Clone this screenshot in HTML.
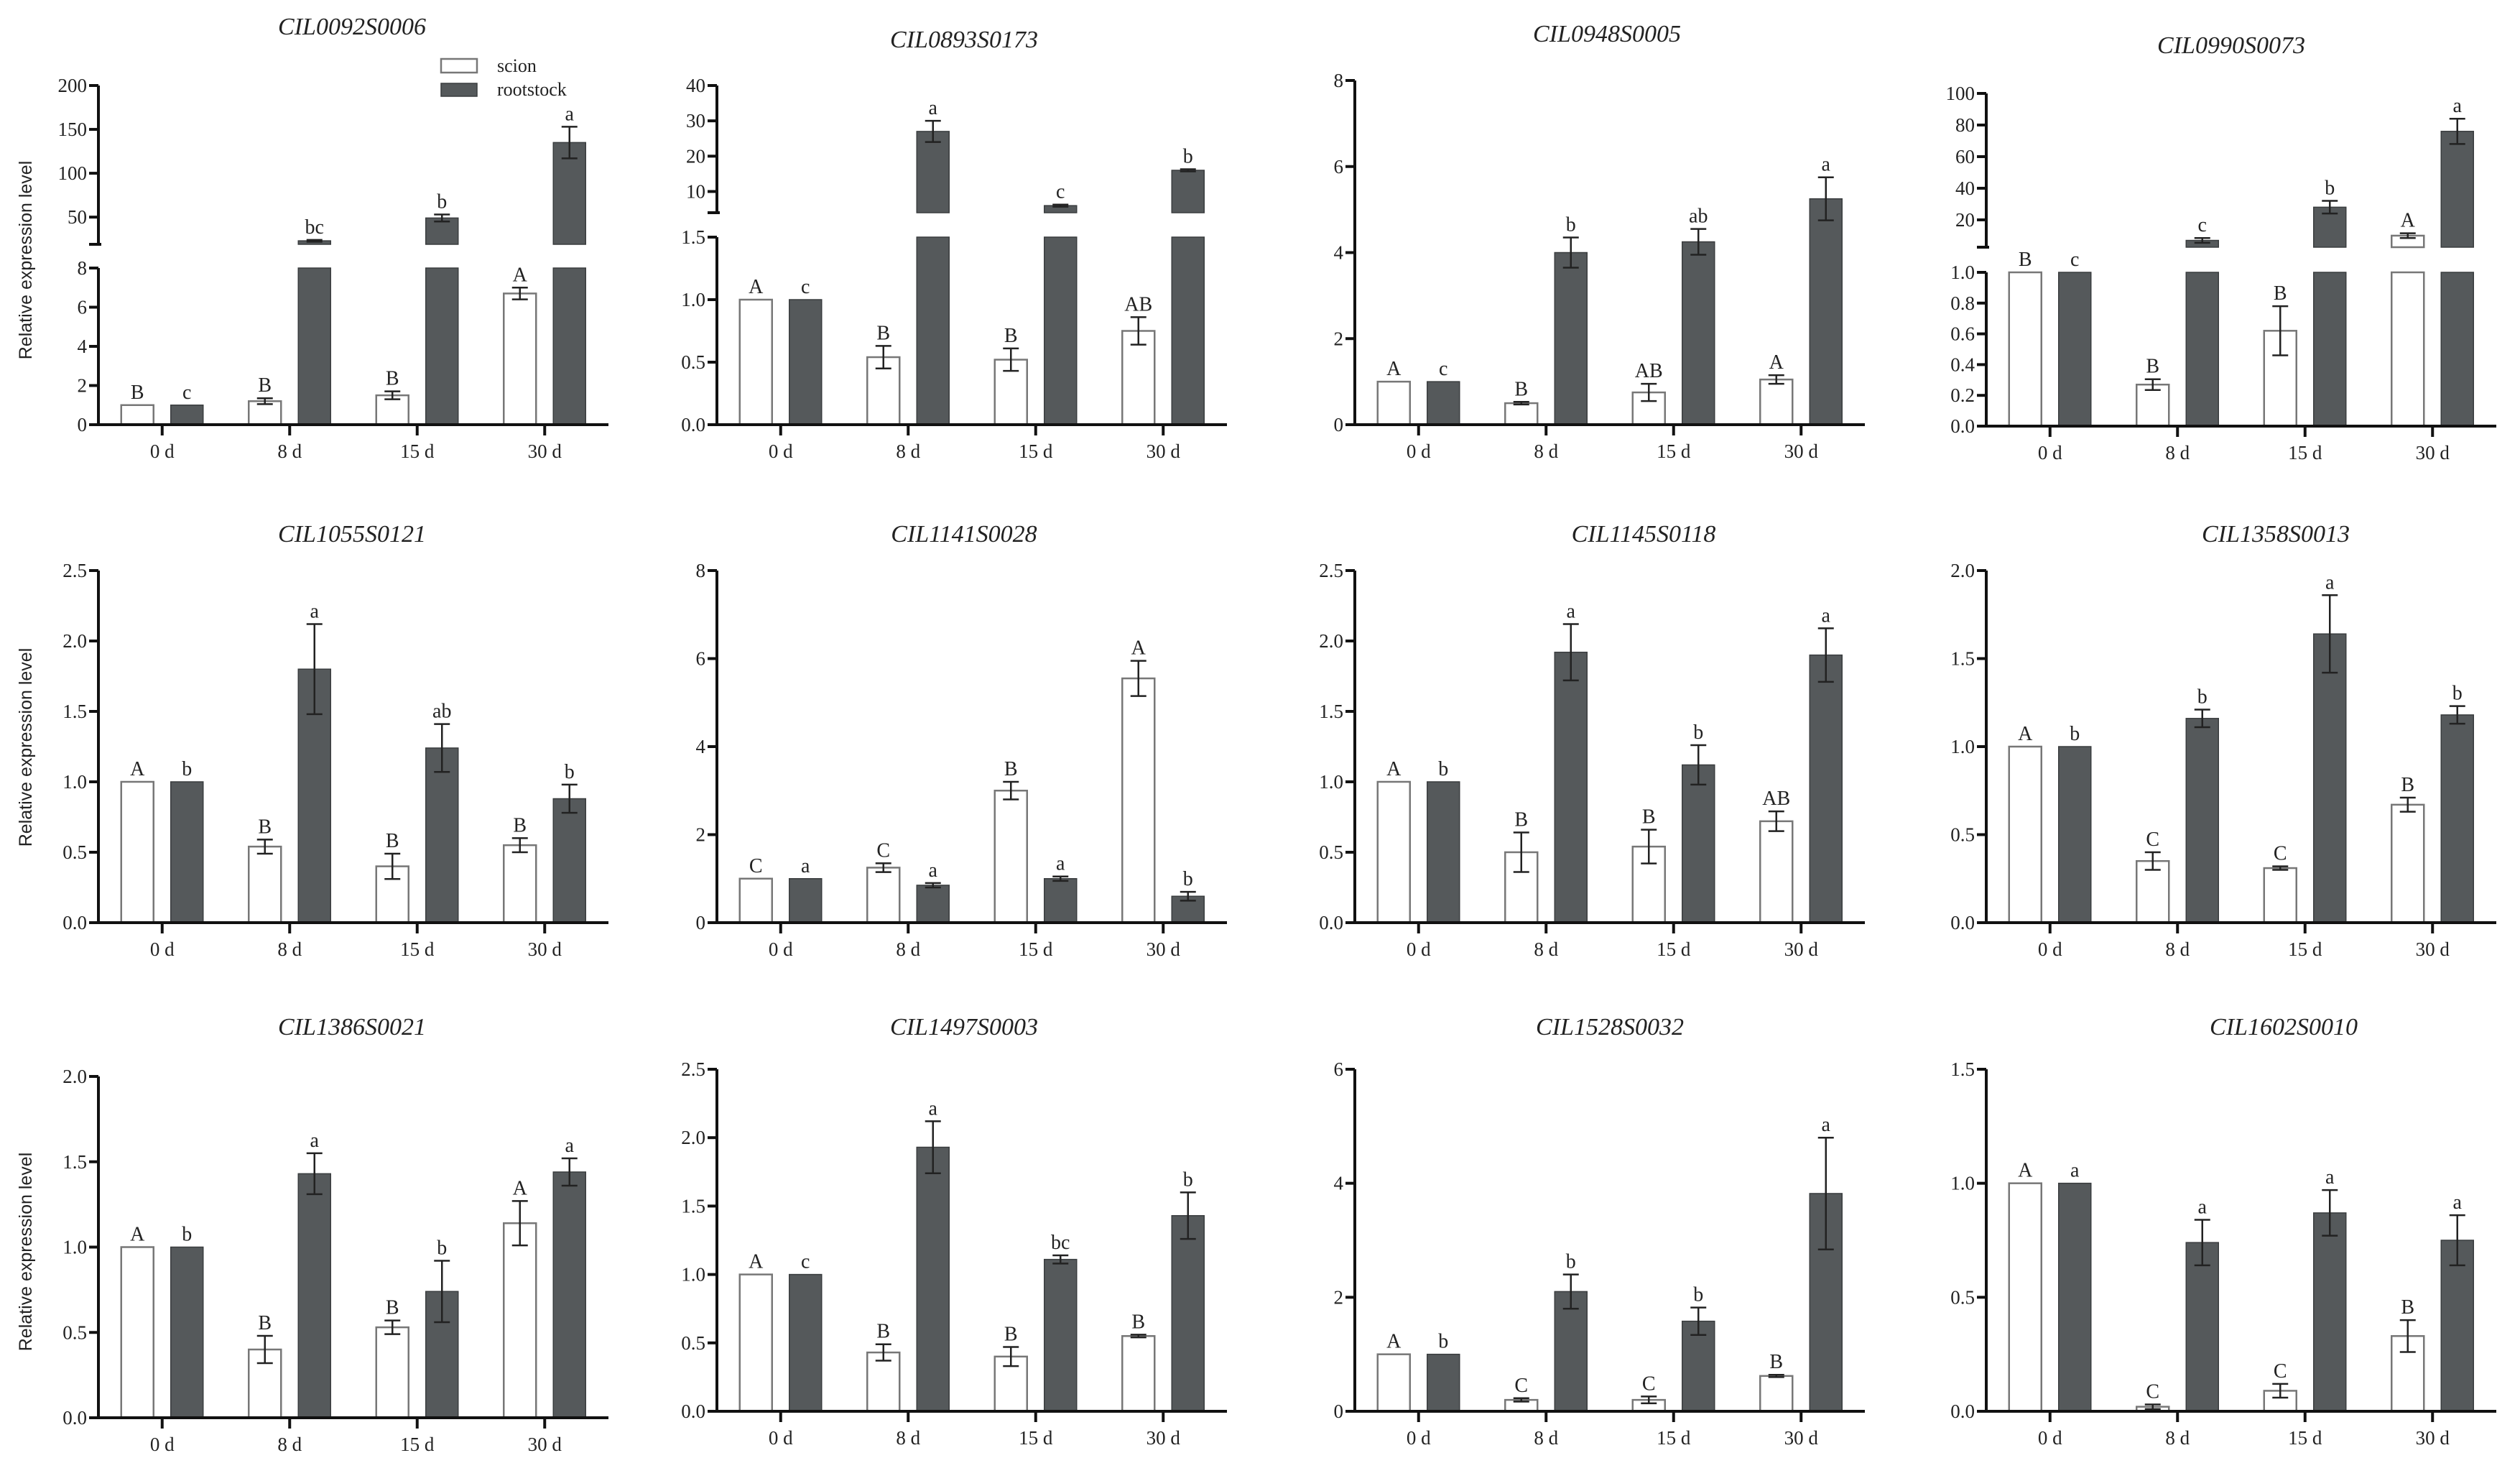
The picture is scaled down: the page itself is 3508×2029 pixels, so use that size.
<!DOCTYPE html>
<html><head><meta charset="utf-8"><style>
body{margin:0;background:#fff}
svg{display:block}
text{font-family:"Liberation Serif",serif;fill:#222}
</style></head><body>
<svg id="chart" width="3508" height="2029" viewBox="0 0 3508 2029" xmlns="http://www.w3.org/2000/svg">
<rect width="3508" height="2029" fill="#fff"/>
</svg>
<script>
const genes=['CIL0092S0006','CIL0893S0173','CIL0948S0005','CIL0990S0073','CIL1055S0121','CIL1141S0028','CIL1145S0118','CIL1358S0013','CIL1386S0021','CIL1497S0003','CIL1528S0032','CIL1602S0010'];
const categories=['0 d','8 d','15 d','30 d'];
const scionMean=[[1,1.2,1.5,6.7],[1,0.54,0.52,0.75],[1,0.5,0.75,1.05],[1,0.27,0.62,10],[1,0.54,0.4,0.55],[1,1.25,3.0,5.55],[1,0.5,0.54,0.72],[1,0.35,0.31,0.67],[1,0.4,0.53,1.14],[1,0.43,0.4,0.55],[1,0.2,0.2,0.62],[1,0.02,0.09,0.33]];
const scionErr=[[0,0.15,0.2,0.3],[0,0.09,0.09,0.11],[0,0.03,0.2,0.1],[0,0.035,0.16,1.5],[0,0.05,0.09,0.05],[0,0.1,0.2,0.4],[0,0.14,0.12,0.07],[0,0.05,0.01,0.04],[0,0.08,0.04,0.13],[0,0.06,0.07,0.01],[0,0.03,0.06,0.02],[0,0.01,0.03,0.07]];
const scionLetter=[['B','B','B','A'],['A','B','B','AB'],['A','B','AB','A'],['B','B','B','A'],['A','B','B','B'],['C','C','B','A'],['A','B','B','AB'],['A','C','C','B'],['A','B','B','A'],['A','B','B','B'],['A','C','C','B'],['A','C','C','B']];
const rootMean=[[1,23,49,135],[1,27,6,16],[1,4.0,4.25,5.25],[1,7,28,76],[1,1.8,1.24,0.88],[1,0.85,1.0,0.6],[1,1.92,1.12,1.9],[1,1.16,1.64,1.18],[1,1.43,0.74,1.44],[1,1.93,1.11,1.43],[1,2.1,1.58,3.82],[1,0.74,0.87,0.75]];
const rootErr=[[0,1,4,18],[0,3,0.3,0.3],[0,0.35,0.3,0.5],[0,1.5,4,8],[0,0.32,0.17,0.1],[0,0.05,0.05,0.1],[0,0.2,0.14,0.19],[0,0.05,0.22,0.05],[0,0.12,0.18,0.08],[0,0.19,0.03,0.17],[0,0.3,0.24,0.98],[0,0.1,0.1,0.11]];
const rootLetter=[['c','bc','b','a'],['c','a','c','b'],['c','b','ab','a'],['c','c','b','a'],['b','a','ab','b'],['a','a','a','b'],['b','a','b','a'],['b','b','a','b'],['b','a','b','a'],['c','a','bc','b'],['b','b','b','a'],['a','a','a','a']];
const lowerMax=[8,1.5,8,1,2.5,8,2.5,2,2,2.5,6,1.5];
const lowerTicks=[[0,2,4,6,8],[0,0.5,1,1.5],[0,2,4,6,8],[0,0.2,0.4,0.6,0.8,1],[0,0.5,1,1.5,2,2.5],[0,2,4,6,8],[0,0.5,1,1.5,2,2.5],[0,0.5,1,1.5,2],[0,0.5,1,1.5,2],[0,0.5,1,1.5,2,2.5],[0,2,4,6],[0,0.5,1,1.5]];
const tickDecimals=[0,1,0,1,1,0,1,1,1,1,0,1];
const upperMin=[19,4,null,2.7,null,null,null,null,null,null,null,null];
const upperMax=[200,40,null,100,null,null,null,null,null,null,null,null];
const upperTicks=[[50,100,150,200],[10,20,30,40],null,[20,40,60,80,100],null,null,null,null,null,null,null,null];

const axX=[137,998,1886,2765];
const LAY=[
 {zero:591,lowTop:373,upBot:340,upTop:119,tx:490,ty:48},
 {zero:591,lowTop:330,upBot:296,upTop:119,tx:1342,ty:66},
 {zero:591,lowTop:112,tx:2237,ty:58},
 {zero:593,lowTop:379,upBot:344,upTop:130,tx:3106,ty:74},
 {zero:1284,lowTop:794,tx:490,ty:754},
 {zero:1284,lowTop:794,tx:1342,ty:754},
 {zero:1284,lowTop:794,tx:2288,ty:754},
 {zero:1284,lowTop:794,tx:3168,ty:754},
 {zero:1973,lowTop:1498,tx:490,ty:1440},
 {zero:1964,lowTop:1488,tx:1342,ty:1440},
 {zero:1964,lowTop:1488,tx:2241,ty:1440},
 {zero:1964,lowTop:1488,tx:3179,ty:1440}
];
const AXLEN=710;
const svg=document.getElementById('chart');
const NS='http://www.w3.org/2000/svg';
function mk(tag,attrs,parent){const e=document.createElementNS(NS,tag);for(const k in attrs)e.setAttribute(k,attrs[k]);(parent||svg).appendChild(e);return e;}

for(let p=0;p<12;p++){
  const L=LAY[p], ax=axX[p%4];
  const broken=upperMax[p]!=null;
  const g=mk('g',{});
  
  
  function y(v){
    if(!broken||v<=lowerMax[p]) return L.zero-(v/lowerMax[p])*(L.zero-L.lowTop);
    return L.upBot-(v-upperMin[p])/(upperMax[p]-upperMin[p])*(L.upBot-L.upTop);
  }
  const t=mk('text',{x:L.tx,y:L.ty,'text-anchor':'middle','font-size':34,'font-style':'italic'},g);
  t.textContent=genes[p];
  
  
  // y axis lower
  const ya=mk('line',{x1:ax,y1:L.zero+2,x2:ax,y2:L.lowTop,stroke:'#111','stroke-width':4},g);
  
  
  lowerTicks[p].forEach(v=>{
    const yy=y(v);
    mk('line',{x1:ax-13,y1:yy,x2:ax,y2:yy,stroke:'#111','stroke-width':4},g);
    const tl=mk('text',{x:ax-16,y:yy+9,'text-anchor':'end','font-size':27},g);
    tl.textContent=v.toFixed(tickDecimals[p]);
    
    
  });
  if(broken){
    mk('line',{x1:ax,y1:L.upBot,x2:ax,y2:L.upTop,stroke:'#111','stroke-width':4},g);
    mk('line',{x1:ax-13,y1:L.upBot,x2:ax+4,y2:L.upBot,stroke:'#111','stroke-width':4},g);
    upperTicks[p].forEach(v=>{
      const yy=y(v);
      mk('line',{x1:ax-13,y1:yy,x2:ax,y2:yy,stroke:'#111','stroke-width':4},g);
      const tl=mk('text',{x:ax-16,y:yy+9,'text-anchor':'end','font-size':27},g);
      tl.textContent=String(v);
      
      
    });
  }
  // bars
  const series=[{m:scionMean[p],e:scionErr[p],l:scionLetter[p],off:-57,fill:'#fff',stroke:'#777',sw:2.5,name:'scion'},
                {m:rootMean[p],e:rootErr[p],l:rootLetter[p],off:12,fill:'#55595b',stroke:'#3a3d3f',sw:1.5,name:'rootstock'}];
  for(let i=0;i<4;i++){
    const c=ax+(i+0.5)*AXLEN/4;
    series.forEach(s=>{
      const v=s.m[i], x0=c+s.off, w=45;
      if(broken&&v>lowerMax[p]){
        const r1=mk('rect',{x:x0,y:L.lowTop,width:w,height:L.zero-L.lowTop,fill:s.fill,stroke:s.stroke,'stroke-width':s.sw},g);
        
        
        const yt=y(v);
        const r2=mk('rect',{x:x0,y:yt,width:w,height:L.upBot-yt,fill:s.fill,stroke:s.stroke,'stroke-width':s.sw},g);
        
        
      } else {
        const yt=y(v);
        const r=mk('rect',{x:x0,y:yt,width:w,height:L.zero-yt,fill:s.fill,stroke:s.stroke,'stroke-width':s.sw},g);
        
        
      }
      const cx=x0+w/2;
      const e=s.e[i];
      if(e>0){
        const y1=y(v+e), y2=y(v-e);
        const eb=mk('path',{d:`M${cx},${y1}V${y2}M${cx-11},${y1}H${cx+11}M${cx-11},${y2}H${cx+11}`,stroke:'#222','stroke-width':2.5,fill:'none'},g);
        
        
      }
      const lt=mk('text',{x:cx,y:y(v+e)-9,'text-anchor':'middle','font-size':28},g);
      lt.textContent=s.l[i];
      
      
    });
    mk('line',{x1:c,y1:L.zero,x2:c,y2:L.zero+15,stroke:'#111','stroke-width':4},g);
    const xl=mk('text',{x:c,y:L.zero+46,'text-anchor':'middle','font-size':27},g);
    xl.textContent=categories[i];
    
    
  }
  const xa=mk('line',{x1:ax-2,y1:L.zero,x2:ax+AXLEN,y2:L.zero,stroke:'#111','stroke-width':4},g);
  
  
  if(p%4===0){
    const cy=[362,1040,1742][p/4];
    const yt=mk('text',{x:0,y:0,'text-anchor':'middle','font-size':25,transform:`translate(44,${cy}) rotate(-90)`,style:'font-family:"Liberation Sans",sans-serif'},g);
    yt.textContent='Relative expression level';
    
    
  }
}
// legend
const lg=mk('g',{});


mk('rect',{x:614,y:82,width:50,height:19,fill:'#fff',stroke:'#777','stroke-width':2.5},lg);
mk('rect',{x:614,y:116,width:50,height:18,fill:'#55595b',stroke:'#3a3d3f','stroke-width':1.5},lg);
const l1=mk('text',{x:692,y:100,'font-size':26},lg);l1.textContent='scion';


const l2=mk('text',{x:692,y:133,'font-size':26},lg);l2.textContent='rootstock';


</script>
</body></html>
